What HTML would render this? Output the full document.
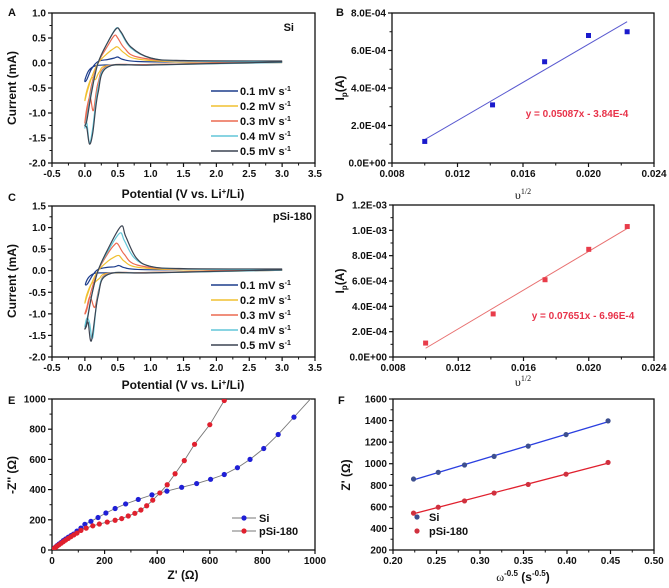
<!DOCTYPE html>
<html><head><meta charset="utf-8">
<style>
html,body{margin:0;padding:0;background:#fff;}
svg{display:block;font-family:"Liberation Sans",sans-serif;}
.tk{font-size:10px;font-weight:bold;fill:#111;}
.ttl{font-size:12px;font-weight:bold;fill:#111;}
.lbl{font-size:11px;font-weight:bold;fill:#111;}
</style></head>
<body>
<svg id="fig" width="669" height="588" viewBox="0 0 669 588" xmlns="http://www.w3.org/2000/svg"></svg>
<script>
// ---------- data ----------
const cvRates = ["0.1","0.2","0.3","0.4","0.5"];
const cvColors = ["#1d3d8c","#f0c030","#ec6a50","#62c6d8","#3c4452"];
const cvSi_01 = [[3,0.03],[1.5,-0.02],[0.6,-0.04],[0.3,-0.04],[0.15,-0.06],[0.06,-0.15],[0.01,-0.3],[0.0,-0.37],[0.03,-0.33],[0.1,-0.12],[0.2,0.03],[0.35,0.07],[0.45,0.1],[0.5,0.12],[0.58,0.07],[0.8,0.03],[1.5,0.02],[3,0.03]];
const cvSi_02 = [[3,0.01],[1.0,-0.03],[0.35,-0.05],[0.22,-0.18],[0.16,-0.33],[0.1,-0.3],[0.03,-0.55],[0.0,-0.75],[0.03,-0.6],[0.1,-0.3],[0.2,0.0],[0.35,0.2],[0.45,0.3],[0.5,0.32],[0.6,0.2],[0.8,0.08],[1.5,0.02],[3,0.02]];
const cvSi_03 = [[3,0.01],[1.0,-0.03],[0.35,-0.06],[0.2,-0.4],[0.13,-0.95],[0.08,-0.68],[0.03,-0.9],[0.0,-1.2],[0.03,-1.0],[0.1,-0.45],[0.2,0.0],[0.35,0.35],[0.45,0.55],[0.5,0.5],[0.6,0.3],[0.8,0.12],[1.5,0.03],[3,0.02]];
const cvSi_04 = [[3,0.01],[1.0,-0.04],[0.35,-0.07],[0.2,-0.5],[0.12,-1.3],[0.07,-1.6],[0.03,-1.2],[0.0,-1.3],[0.03,-1.1],[0.1,-0.55],[0.2,0.0],[0.35,0.42],[0.48,0.7],[0.55,0.6],[0.7,0.3],[1.0,0.1],[1.5,0.04],[3,0.03]];
const cvSi_05 = [[3,0.02],[1.0,-0.04],[0.35,-0.08],[0.2,-0.6],[0.12,-1.4],[0.07,-1.62],[0.03,-1.3],[0.0,-1.25],[0.03,-1.15],[0.1,-0.6],[0.2,0.0],[0.35,0.42],[0.48,0.69],[0.55,0.62],[0.7,0.32],[1.0,0.1],[1.5,0.05],[3,0.04]];
const cvP_01 = [[3,0.02],[1.5,-0.03],[0.6,-0.05],[0.3,-0.05],[0.15,-0.06],[0.06,-0.15],[0.01,-0.3],[0.02,-0.33],[0.05,-0.28],[0.12,-0.1],[0.2,0.03],[0.35,0.08],[0.45,0.09],[0.52,0.12],[0.6,0.07],[0.8,0.03],[1.5,0.02],[3,0.03]];
const cvP_02 = [[3,0.01],[1.0,-0.04],[0.35,-0.06],[0.22,-0.18],[0.15,-0.27],[0.1,-0.3],[0.03,-0.55],[0.0,-0.75],[0.03,-0.6],[0.1,-0.3],[0.2,0.0],[0.35,0.22],[0.45,0.32],[0.52,0.35],[0.6,0.22],[0.8,0.08],[1.5,0.02],[3,0.02]];
const cvP_03 = [[3,0.01],[1.0,-0.04],[0.35,-0.07],[0.22,-0.4],[0.15,-0.85],[0.08,-0.6],[0.03,-0.85],[0.0,-1.0],[0.03,-0.9],[0.1,-0.45],[0.2,0.0],[0.35,0.4],[0.45,0.6],[0.5,0.62],[0.6,0.38],[0.8,0.13],[1.5,0.03],[3,0.02]];
const cvP_04 = [[3,0.01],[1.0,-0.05],[0.35,-0.08],[0.2,-0.55],[0.12,-1.55],[0.07,-1.2],[0.03,-1.1],[0.0,-1.3],[0.03,-1.15],[0.1,-0.6],[0.2,0.0],[0.35,0.45],[0.53,0.87],[0.6,0.7],[0.75,0.3],[1.0,0.1],[1.5,0.04],[3,0.03]];
const cvP_05 = [[3,0.02],[1.0,-0.05],[0.35,-0.09],[0.2,-0.6],[0.1,-1.62],[0.05,-1.2],[0.02,-1.3],[0.0,-1.35],[0.03,-1.2],[0.1,-0.6],[0.2,0.0],[0.35,0.5],[0.55,1.03],[0.62,0.8],[0.78,0.3],[1.0,0.1],[1.5,0.05],[3,0.04]];
const cvSi = [cvSi_01,cvSi_02,cvSi_03,cvSi_04,cvSi_05];
const cvP = [cvP_01,cvP_02,cvP_03,cvP_04,cvP_05];
const cvXTicks = [-0.5,0,0.5,1,1.5,2,2.5,3,3.5];
const cvAYTicks = [-2,-1.5,-1,-0.5,0,0.5,1];
const cvCYTicks = [-2,-1.5,-1,-0.5,0,0.5,1,1.5];

const ipX = [0.01,0.01414,0.01732,0.02,0.02236];
const ipSi = [1.15e-4,3.1e-4,5.4e-4,6.8e-4,7.0e-4];
const ipP = [1.1e-4,3.4e-4,6.1e-4,8.5e-4,1.03e-3];
const ipSiFit = [0.05087,-3.84e-4];
const ipPFit = [0.07651,-6.96e-4];
const ipXTicks = [0.008,0.012,0.016,0.020,0.024];
const ipXLabels = ["0.008","0.012","0.016","0.020","0.024"];
const ipBYTicks = [0,2e-4,4e-4,6e-4,8e-4];
const ipBYLabels = ["0.0E+00","2.0E-04","4.0E-04","6.0E-04","8.0E-04"];
const ipDYTicks = [0,2e-4,4e-4,6e-4,8e-4,1e-3,1.2e-3];
const ipDYLabels = ["0.0E+00","2.0E-04","4.0E-04","6.0E-04","8.0E-04","1.0E-03","1.2E-03"];

const nyqSiRe = [2,5,10,15,20,27,35,43,52,62,72,82,95,110,125,148,175,205,240,280,328,380,437,493,550,603,655,705,753,805,860,920];
const nyqSiIm = [2,7,14,22,30,40,50,62,73,85,95,105,125,145,170,190,215,245,275,305,335,365,390,415,440,468,500,545,600,672,765,880];
const nyqPRe = [2,5,10,15,20,27,35,43,52,62,72,83,95,110,130,155,180,210,240,265,290,315,338,360,383,410,438,468,503,542,600,655];
const nyqPIm = [2,6,13,20,27,35,45,55,66,77,88,100,112,130,145,160,172,185,197,208,225,243,265,293,330,378,432,505,592,700,830,990];
const nyqTicks = [0,200,400,600,800,1000];

const wX = [0.2236,0.2520,0.2822,0.3162,0.3554,0.3989,0.4472];
const wSi = [858,920,988,1068,1163,1270,1397];
const wP = [542,597,655,728,808,903,1012];
const wXTicks = [0.2,0.25,0.3,0.35,0.4,0.45,0.5];
const wXLabels = ["0.20","0.25","0.30","0.35","0.40","0.45","0.50"];
const wYTicks = [200,400,600,800,1000,1200,1400,1600];

// ---------- helpers ----------
const NS="http://www.w3.org/2000/svg";
const svg=document.getElementById('fig');
function el(tag,attrs,parent){const e=document.createElementNS(NS,tag);for(const k in attrs)e.setAttribute(k,attrs[k]);(parent||svg).appendChild(e);return e;}
function txt(x,y,s,cls,anchor,parent){const t=el('text',{x:x,y:y,class:cls,'text-anchor':anchor||'middle'},parent);t.textContent=s;return t;}
function scale(d0,d1,r0,r1){return v=>r0+(v-d0)/(d1-d0)*(r1-r0);}
function axes(name,box,xd,yd,xt,xl,yt,yl){
  const g=el('g',{});
  
  
  const sx=scale(xd[0],xd[1],box.x0,box.x1), sy=scale(yd[0],yd[1],box.y1,box.y0);
  el('rect',{x:box.x0,y:box.y0,width:box.x1-box.x0,height:box.y1-box.y0,fill:'none',stroke:'#111','stroke-width':1.3},g);
  xt.forEach((v,i)=>{const x=sx(v);el('line',{x1:x,x2:x,y1:box.y1,y2:box.y1+4,stroke:'#111','stroke-width':1.2},g);
    if(i<xt.length-1){const m=sx((v+xt[i+1])/2);el('line',{x1:m,x2:m,y1:box.y1,y2:box.y1+2.5,stroke:'#111'},g);}
    const t=txt(x,box.y1+14,xl[i],'tk','middle',g);});
  yt.forEach((v,i)=>{const y=sy(v);el('line',{x1:box.x0-4,x2:box.x0,y1:y,y2:y,stroke:'#111','stroke-width':1.2},g);
    if(i<yt.length-1){const m=sy((v+yt[i+1])/2);el('line',{x1:box.x0-2.5,x2:box.x0,y1:m,y2:m,stroke:'#111'},g);}
    const t=txt(box.x0-6,y+3.5,yl[i],'tk','end',g);});
  return {sx,sy};
}
function smoothPath(pts){
  let d='M'+pts[0][0]+','+pts[0][1];
  for(let i=0;i<pts.length-1;i++){
    const p0=pts[Math.max(0,i-1)],p1=pts[i],p2=pts[i+1],p3=pts[Math.min(pts.length-1,i+2)];
    const c1=[p1[0]+(p2[0]-p0[0])/6,p1[1]+(p2[1]-p0[1])/6];
    const c2=[p2[0]-(p3[0]-p1[0])/6,p2[1]-(p3[1]-p1[1])/6];
    d+=' C'+c1[0].toFixed(2)+','+c1[1].toFixed(2)+' '+c2[0].toFixed(2)+','+c2[1].toFixed(2)+' '+p2[0].toFixed(2)+','+p2[1].toFixed(2);
  }
  return d;
}
const f1=v=>v.toFixed(1);

// ---------- panel letters ----------
[["A",8,16],["B",336,16],["C",8,201],["D",336,201],["E",8,404],["F",338,404]].forEach(p=>{
  const t=txt(p[1],p[2],p[0],'lbl','start');});

// ---------- CV panels ----------
function cvPanel(name,box,ytick,data,tag,tagX,tagY,legY){
  const a=axes(name,box,[-0.5,3.5],[ytick[0],ytick[ytick.length-1]],cvXTicks,cvXTicks.map(f1),ytick,ytick.map(f1));
  data.forEach((series,k)=>{
    const p=el('path',{d:smoothPath(series.map(q=>[a.sx(q[0]),a.sy(q[1])])),fill:'none',stroke:cvColors[k],'stroke-width':1.2});
    
    
  });
  const t=txt(tagX,tagY,tag,'lbl','end');
  const lg=el('g',{});
  cvRates.forEach((r,k)=>{const y=legY+k*15;
    el('line',{x1:211,x2:238,y1:y,y2:y,stroke:cvColors[k],'stroke-width':1.5},lg);
    const tt=el('text',{x:240,y:y+4,class:'lbl','text-anchor':'start'},lg);
    
    tt.innerHTML=r+' mV s<tspan dy="-4" font-size="7">-1</tspan>';});
}
cvPanel('panel-a',{x0:52,x1:315,y0:13,y1:163},cvAYTicks,cvSi,'Si',294,31,91);
cvPanel('panel-c',{x0:52,x1:315,y0:206,y1:357},cvCYTicks,cvP,'pSi-180',312,220,285);
[[198,'a'],[389,'c']].forEach(p=>{const t=el('text',{x:183,y:p[0],class:'ttl','text-anchor':'middle'});
  
  t.innerHTML='Potential (V vs. Li<tspan dy="-4" font-size="8">+</tspan><tspan dy="4">/Li)</tspan>';});
[[88,'a'],[281,'c']].forEach(p=>{const t=txt(0,0,'Current (mA)','ttl','middle');t.setAttribute('transform','translate(16,'+p[0]+') rotate(-90)');
  });

// ---------- Ip panels ----------
function ipPanel(name,box,yt,yl,ys,fit,col,lineCol,eqText,eqX,eqY){
  const a=axes(name,box,[0.008,0.024],[yt[0],yt[yt.length-1]],ipXTicks,ipXLabels,yt,yl);
  const x0=ipX[0],x1=ipX[ipX.length-1];
  const ln=el('line',{x1:a.sx(x0),y1:a.sy(fit[0]*x0+fit[1]),x2:a.sx(x1),y2:a.sy(fit[0]*x1+fit[1]),stroke:lineCol,'stroke-width':1});
  
  ipX.forEach((x,i)=>{const r=el('rect',{x:a.sx(x)-2.5,y:a.sy(ys[i])-2.5,width:5,height:5,fill:col});
    });
  const t=txt(eqX,eqY,eqText,'tk','middle');t.style.fill='#e8334a';
  
}
ipPanel('panel-b',{x0:392,x1:654,y0:13,y1:163},ipBYTicks,ipBYLabels,ipSi,ipSiFit,'#1a1acc','#5a5ad0','y = 0.05087x - 3.84E-4',577,117);
ipPanel('panel-d',{x0:393,x1:654,y0:205,y1:357},ipDYTicks,ipDYLabels,ipP,ipPFit,'#e83c4a','#e87070','y = 0.07651x - 6.96E-4',583,319);
[[199,'b'],[386,'d']].forEach(p=>{const t=el('text',{x:523,y:p[0],'font-family':'Liberation Serif','font-size':12,'text-anchor':'middle',fill:'#111'});
  
  t.innerHTML='υ<tspan dy="-5" font-size="8">1/2</tspan>';});
[[88,'b'],[281,'d']].forEach(p=>{const t=el('text',{'class':'ttl','text-anchor':'middle',transform:'translate(344,'+p[0]+') rotate(-90)'});
  
  t.innerHTML='I<tspan dy="3" font-size="8">p</tspan><tspan dy="-3">(A)</tspan>';});

// ---------- Nyquist (E) ----------
(function(){
  const box={x0:52,x1:315,y0:399,y1:550};
  const a=axes('panel-e',box,[0,1000],[0,1000],nyqTicks,nyqTicks.map(String),nyqTicks,nyqTicks.map(String));
  const clip=el('clipPath',{id:'clipE'});el('rect',{x:box.x0,y:box.y0,width:box.x1-box.x0,height:box.y1-box.y0},clip);
  function series(re,im,col,nm,ext){
    const g=el('g',{'clip-path':'url(#clipE)'});
    
    const n=re.length;
    const pts=re.map((r,i)=>[a.sx(r),a.sy(im[i])]);
    const ex=[re[n-1]+(re[n-1]-re[n-2])*ext, im[n-1]+(im[n-1]-im[n-2])*ext];
    pts.push([a.sx(ex[0]),a.sy(ex[1])]);
    el('polyline',{points:pts.map(p=>p.join(',')).join(' '),fill:'none',stroke:'#777','stroke-width':0.9},g);
    re.forEach((r,i)=>el('circle',{cx:a.sx(r),cy:a.sy(im[i]),r:2.6,fill:col},g));
  }
  series(nyqSiRe,nyqSiIm,'#1f1fd6','si',1.2);
  series(nyqPRe,nyqPIm,'#e0202e','psi-180',0.5);
  const lg=el('g',{});
  [['Si','#1f1fd6',518],['pSi-180','#e0202e',531]].forEach(e=>{
    el('line',{x1:232,x2:256,y1:e[2],y2:e[2],stroke:'#777'},lg);el('circle',{cx:244,cy:e[2],r:2.6,fill:e[1]},lg);
    const t=txt(259,e[2]+4,e[0],'lbl','start',lg);});
  const xt=txt(183,579,"Z' (Ω)",'ttl');
  const yt=txt(0,0,"-Z'' (Ω)",'ttl');yt.setAttribute('transform','translate(16,475) rotate(-90)');
  
})();

// ---------- Warburg (F) ----------
(function(){
  const box={x0:393,x1:654,y0:399,y1:550};
  const a=axes('panel-f',box,[0.2,0.5],[200,1600],wXTicks,wXLabels,wYTicks,wYTicks.map(String));
  function fit(ys){const n=wX.length;const mx=wX.reduce((s,v)=>s+v,0)/n,my=ys.reduce((s,v)=>s+v,0)/n;
    let num=0,den=0;wX.forEach((x,i)=>{num+=(x-mx)*(ys[i]-my);den+=(x-mx)*(x-mx);});const m=num/den;return [m,my-m*mx];}
  function series(ys,lineCol,dotCol,nm){
    const g=el('g',{});
    const f=fit(ys),x0=wX[0],x1=wX[wX.length-1];
    el('line',{x1:a.sx(x0),y1:a.sy(f[0]*x0+f[1]),x2:a.sx(x1),y2:a.sy(f[0]*x1+f[1]),stroke:lineCol,'stroke-width':1.3},g);
    wX.forEach((x,i)=>el('circle',{cx:a.sx(x),cy:a.sy(ys[i]),r:2.6,fill:dotCol},g));
  }
  series(wSi,'#2a3fe0','#3d4f8f','si');
  series(wP,'#e0202e','#d0303e','psi-180');
  const lg=el('g',{});
  [['Si','#3d4f8f',517],['pSi-180','#d0303e',531]].forEach(e=>{
    el('circle',{cx:417,cy:e[2],r:2.6,fill:e[1]},lg);
    const t=txt(429,e[2]+4,e[0],'lbl','start',lg);});
  const xt=el('text',{x:523,y:581,'class':'ttl','text-anchor':'middle','font-weight':'normal'});
  
  xt.innerHTML='<tspan font-family="Liberation Serif" font-weight="normal">ω</tspan><tspan dy="-5" font-size="8">-0.5</tspan><tspan dy="5"> (s</tspan><tspan dy="-5" font-size="8">-0.5</tspan><tspan dy="5">)</tspan>';
  const yt=txt(0,0,"Z' (Ω)",'ttl');yt.setAttribute('transform','translate(350,475) rotate(-90)');
  
})();
</script>
</body></html>
